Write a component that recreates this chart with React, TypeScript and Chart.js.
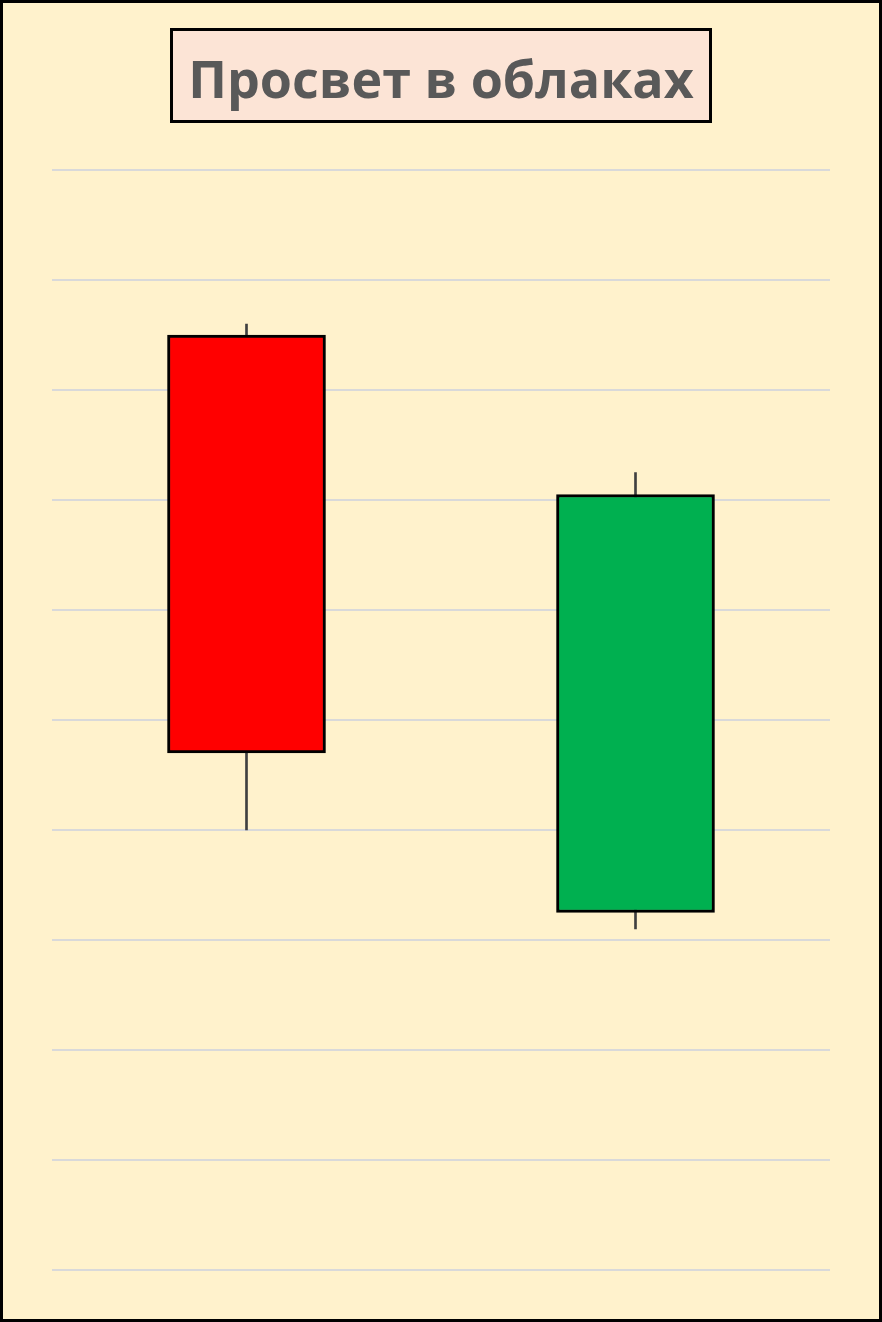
import React, { useEffect, useRef } from "react";
import { Chart, registerables } from "chart.js";

Chart.register(...registerables);

const categories: string[] = ["День 1", "День 2"];
const openValues: number[] = [8.5, 3.25];
const closeValues: number[] = [4.7, 7.05];
const highValues: number[] = [8.6, 7.25];
const lowValues: number[] = [4.0, 3.1];
const bodyColors: string[] = ["#FF0000", "#00B050"];
const titleText = "Просвет в облаках";

export default function App() {
  const canvasRef = useRef<HTMLCanvasElement | null>(null);

  useEffect(() => {
    document.body.style.margin = "0";
    const canvas = canvasRef.current;
    if (!canvas) return;
    const bodies = categories.map((_, i) => [
      Math.min(openValues[i], closeValues[i]),
      Math.max(openValues[i], closeValues[i]),
    ]);
    const wicks = categories.map((_, i) => [lowValues[i], highValues[i]]);
    const chart = new Chart(canvas, {
      type: "bar",
      data: {
        labels: categories,
        datasets: [
          {
            label: "Тело",
            data: bodies as any,
            backgroundColor: bodyColors,
            borderColor: "#000000",
            borderWidth: 3,
            borderSkipped: false,
            barThickness: 158,
            grouped: false,
            order: 1,
          },
          {
            label: "Тень",
            data: wicks as any,
            backgroundColor: "#404040",
            borderWidth: 0,
            barThickness: 2,
            grouped: false,
            order: 2,
          },
        ],
      },
      options: {
        responsive: false,
        animation: false,
        layout: { padding: { left: 52, right: 52, top: 170, bottom: 52 } },
        plugins: {
          legend: { display: false },
          tooltip: { enabled: false },
          title: { display: false },
        },
        scales: {
          x: { display: false },
          y: {
            min: 0,
            max: 10,
            ticks: { display: false, stepSize: 1 },
            border: { display: false },
            grid: { color: "#D9D9D9", lineWidth: 2, drawTicks: false },
          },
        },
      },
    });
    return () => chart.destroy();
  }, []);

  return (
    <div
      style={{
        position: "absolute",
        left: 0,
        top: 0,
        width: 882,
        height: 1322,
        boxSizing: "border-box",
        border: "3px solid #000",
        background: "#FFF2CC",
        overflow: "hidden",
      }}
    >
      <canvas
        ref={canvasRef}
        width={882}
        height={1322}
        style={{ position: "absolute", left: -3, top: -3, width: 882, height: 1322 }}
      />
      <div
        style={{
          position: "absolute",
          left: 167,
          top: 25,
          width: 542,
          height: 95,
          boxSizing: "border-box",
          border: "3px solid #000",
          background: "#FCE4D6",
          display: "flex",
          alignItems: "center",
          justifyContent: "center",
          paddingTop: 4,
          fontFamily: "'Open Sans', sans-serif",
          fontWeight: 700,
          fontSize: 52,
          color: "#595959",
          whiteSpace: "nowrap",
        }}
      >
        {titleText}
      </div>
    </div>
  );
}
